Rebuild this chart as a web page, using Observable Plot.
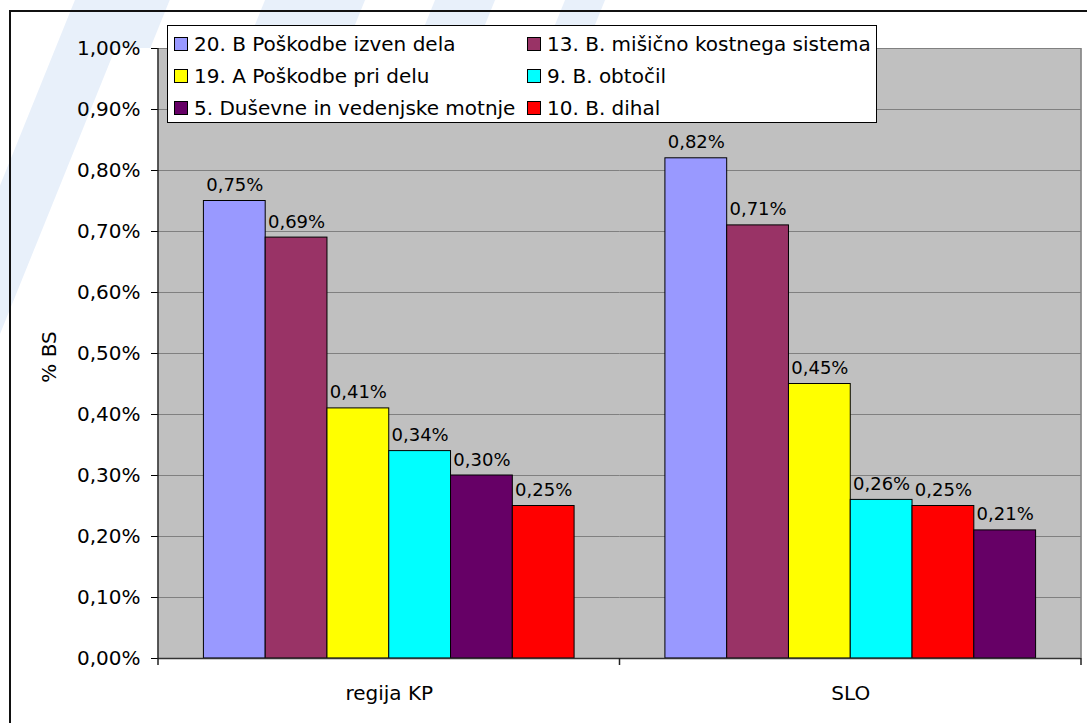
<!DOCTYPE html>
<html><head><meta charset="utf-8">
<script src="https://cdn.jsdelivr.net/npm/d3@7"></script>
<script src="https://cdn.jsdelivr.net/npm/@observablehq/plot@0.6"></script>
<style>
html,body{margin:0;padding:0;background:#fff;}
#wrap{position:relative;width:1087px;height:723px;overflow:hidden;font-family:"DejaVu Sans",sans-serif;}
.wm{position:absolute;background:#e8f0fa;transform:skewX(-22deg);}
.bline{position:absolute;background:#111;z-index:5;}
#chart{position:absolute;left:0;top:0;z-index:1;}
#legend{position:absolute;left:167px;top:25px;width:710px;height:98px;background:#fff;border:1px solid #000;box-sizing:border-box;z-index:4;}
.item{position:absolute;height:22px;display:flex;align-items:center;font-size:20px;white-space:nowrap;color:#000;}
.sw{width:14px;height:14px;border:1px solid #000;box-sizing:border-box;margin-right:6px;}
</style></head>
<body>
<div id="wrap">
  <div class="wm" style="left:-20px;top:0;width:60px;height:470px;"></div>
  <div class="wm" style="left:100px;top:0;width:60px;height:48px;"></div>
  <div class="wm" style="left:260px;top:0;width:100px;height:25px;"></div>
  <div class="wm" style="left:430px;top:0;width:60px;height:25px;"></div>
  <div class="wm" style="left:560px;top:0;width:40px;height:25px;"></div>
  <div id="chart"></div>
  <div class="bline" style="left:10px;top:10px;width:1077px;height:2px;"></div>
  <div class="bline" style="left:9px;top:10px;width:2px;height:713px;"></div>
  <div id="legend"></div>
</div>
<script>
const groups = ["regija KP", "SLO"];
const series = [
  "20. B Poškodbe izven dela",
  "13. B. mišično kostnega sistema",
  "19. A Poškodbe pri delu",
  "9. B. obtočil",
  "5. Duševne in vedenjske motnje",
  "10. B. dihal"
];
const colors = ["#9999FF", "#993366", "#FFFF00", "#00FFFF", "#660066", "#FF0000"];
const valuesKP  = [0.75, 0.69, 0.41, 0.34, 0.30, 0.25];
const valuesSLO = [0.82, 0.71, 0.45, 0.26, 0.21, 0.25];
const yTicks = [0, 0.1, 0.2, 0.3, 0.4, 0.5, 0.6, 0.7, 0.8, 0.9, 1.0];
const yLabel = "% BS";

const fmt = v => v.toFixed(2).replace(".", ",") + "%";

const rows = [];
[valuesKP, valuesSLO].forEach((vals, gi) => {
  const r = series.map((s, i) => ({group: groups[gi], series: s, value: vals[i]}));
  r.sort((a, b) => b.value - a.value).forEach((d, k) => { d.rank = k; rows.push(d); });
});

const plot = Plot.plot({
  width: 1087, height: 723,
  marginLeft: 158, marginRight: 6, marginTop: 48, marginBottom: 65,
  style: {fontFamily: "DejaVu Sans", fontSize: "20px", background: "transparent", color: "#000"},
  fx: {domain: groups, padding: 0, round: false, label: null, tickSize: 0, tickPadding: 27},
  x: {domain: d3.range(series.length), paddingInner: 0, paddingOuter: 0.735, round: false, axis: null},
  y: {domain: [0, 1], ticks: yTicks, tickFormat: fmt, tickSize: 7, tickPadding: 11, label: null},
  color: {domain: series, range: colors},
  marks: [
    Plot.frame({fill: "#C0C0C0", stroke: null}),
    Plot.ruleY(yTicks, {stroke: "#808080", strokeWidth: 1, strokeOpacity: 1}),
    Plot.barY(rows, {fx: "group", x: "rank", y: "value", fill: "series", stroke: "#000", strokeWidth: 1}),
    Plot.text(rows, {fx: "group", x: "rank", y: "value", text: d => fmt(d.value), lineAnchor: "bottom", dy: -10, fontSize: 18, fill: "#000"}),
    Plot.ruleY([0], {stroke: "#333", strokeWidth: 1.5})
  ]
});
document.getElementById("chart").appendChild(plot);

// Excel-style axis line, category boundary ticks, right border and y title, via the plot's own scales
const fxs = plot.scale("fx"), ys = plot.scale("y");
const svg = d3.select(plot);
const y0 = ys.apply(0), y1 = ys.apply(1);
const bounds = groups.map(g => fxs.apply(g)).concat([fxs.apply(groups[groups.length - 1]) + fxs.bandwidth]);
svg.append("line").attr("x1", bounds[bounds.length - 1]).attr("x2", bounds[bounds.length - 1])
  .attr("y1", y1).attr("y2", y0).attr("stroke", "#808080").attr("stroke-width", 1.5);
svg.append("line").attr("x1", bounds[0]).attr("x2", bounds[0])
  .attr("y1", y1).attr("y2", y0 + 7).attr("stroke", "#222").attr("stroke-width", 1.5);
bounds.slice(1).forEach(b => {
  svg.append("line").attr("x1", b).attr("x2", b).attr("y1", y0).attr("y2", y0 + 7)
    .attr("stroke", "#222").attr("stroke-width", 1.5);
});
svg.append("text")
  .attr("transform", `translate(49,${(y0 + y1) / 2 + 4}) rotate(-90)`)
  .attr("text-anchor", "middle").attr("dominant-baseline", "central")
  .attr("font-size", 20).attr("fill", "#000").text(yLabel);

// legend
const leg = d3.select("#legend");
series.forEach((s, i) => {
  const row = Math.floor(i / 2), col = i % 2;
  const it = leg.append("div").attr("class", "item")
    .style("left", (col ? 359 : 6) + "px")
    .style("top", (7 + row * 32) + "px");
  it.append("div").attr("class", "sw").style("background", colors[i]);
  it.append("span").text(s);
});
</script>
</body></html>
